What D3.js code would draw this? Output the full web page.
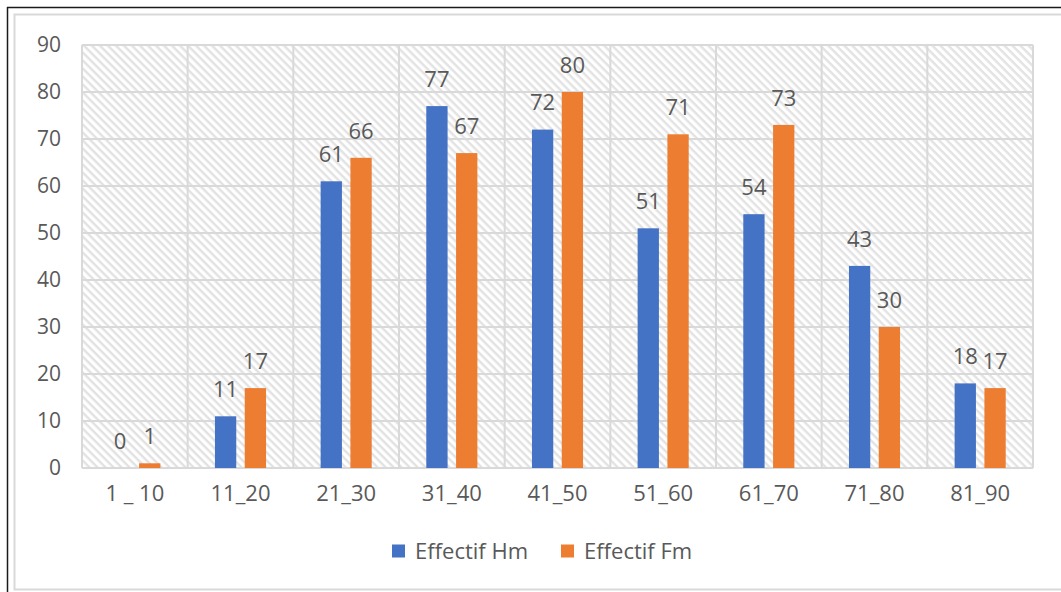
<!DOCTYPE html>
<html>
<head>
<meta charset="utf-8">
<script src="https://cdn.jsdelivr.net/npm/d3@7/dist/d3.min.js"></script>
<style>
  html, body { margin: 0; padding: 0; background: #ffffff; }
  svg { display: block; }
  text { font-family: "Open Sans", "DejaVu Sans", sans-serif; fill: #595959; }
</style>
</head>
<body>
<svg id="chart" width="1061" height="592"></svg>
<script>
// Age classes and counts per class
const categories = ["1 _ 10", "11_20", "21_30", "31_40", "41_50", "51_60", "61_70", "71_80", "81_90"];
const seriesNames = ["Effectif Hm", "Effectif Fm"];
const effectifHm = [0, 11, 61, 77, 72, 51, 54, 43, 18];
const effectifFm = [1, 17, 66, 67, 80, 71, 73, 30, 17];
const yTicks = [0, 10, 20, 30, 40, 50, 60, 70, 80, 90];
const colors = ["#4472c4", "#ed7d31"];

const seriesValues = [effectifHm, effectifFm];
const FONT = 21;

const svg = d3.select("#chart");
const W = 1061, H = 592;

// frame: dark outer rule on top/left, light inner border
svg.append("rect").attr("x", 14.5).attr("y", 14.5).attr("width", W + 10).attr("height", 575)
  .attr("fill", "#ffffff").attr("stroke", "#d9d9d9").attr("stroke-width", 2);
svg.append("line").attr("x1", 7).attr("y1", 7.5).attr("x2", W).attr("y2", 7.5)
  .attr("stroke", "#1a1a1a").attr("stroke-width", 1.5);
svg.append("line").attr("x1", 7.5).attr("y1", 7).attr("x2", 7.5).attr("y2", H)
  .attr("stroke", "#1a1a1a").attr("stroke-width", 1.5);

const plot = { left: 82, right: 1033, top: 45, bottom: 468 };

// downward diagonal hatch for the plot background
const defs = svg.append("defs");
const pat = defs.append("pattern")
  .attr("id", "hatch")
  .attr("patternUnits", "userSpaceOnUse")
  .attr("width", 5.66).attr("height", 5.66)
  .attr("patternTransform", "rotate(45)");
pat.append("rect").attr("x", 0).attr("y", 0).attr("width", 5.66).attr("height", 2.4)
  .attr("fill", "#e2e2e2");

svg.append("rect")
  .attr("x", plot.left).attr("y", plot.top)
  .attr("width", plot.right - plot.left).attr("height", plot.bottom - plot.top)
  .attr("fill", "url(#hatch)");

const x = d3.scaleBand().domain(categories).range([plot.left, plot.right]).padding(0);
const y = d3.scaleLinear().domain([0, 90]).range([plot.bottom, plot.top]);
const xs = d3.scaleBand().domain(seriesNames).range([0, x.bandwidth()])
  .paddingInner(0.285).paddingOuter(0.916);

// gridlines
const grid = svg.append("g").attr("stroke", "#d9d9d9").attr("stroke-width", 2);
grid.selectAll("line.h").data(yTicks).join("line")
  .attr("x1", plot.left).attr("x2", plot.right)
  .attr("y1", d => y(d)).attr("y2", d => y(d));
const vLines = categories.map(c => x(c)).concat([plot.right]);
grid.selectAll("line.v").data(vLines).join("line")
  .attr("x1", d => d).attr("x2", d => d)
  .attr("y1", plot.top).attr("y2", plot.bottom);

// y axis labels
const yAxis = d3.axisLeft(y).tickValues(yTicks).tickSize(0).tickPadding(0);
const gy = svg.append("g").attr("transform", `translate(${plot.left - 21},0)`).call(yAxis);
gy.select(".domain").remove();
gy.selectAll("text").attr("font-size", FONT).style("font-family", '"Open Sans", sans-serif').attr("fill", "#595959");

// x axis labels
const xAxis = d3.axisBottom(x).tickSize(0).tickPadding(0);
const gx = svg.append("g").attr("transform", `translate(0,${plot.bottom + 17})`).call(xAxis);
gx.select(".domain").remove();
gx.selectAll("text").attr("font-size", FONT + 1).style("font-family", '"Open Sans", sans-serif').attr("fill", "#595959");

// bars and value labels
const rows = [];
categories.forEach((c, i) => {
  seriesNames.forEach((s, j) => rows.push({ c, s, j, v: seriesValues[j][i] }));
});

svg.append("g").selectAll("rect").data(rows).join("rect")
  .attr("x", d => x(d.c) + xs(d.s))
  .attr("width", xs.bandwidth())
  .attr("y", d => y(d.v))
  .attr("height", d => y(0) - y(d.v))
  .attr("fill", d => colors[d.j]);

svg.append("g").selectAll("text").data(rows).join("text")
  .attr("x", d => x(d.c) + xs(d.s) + xs.bandwidth() / 2)
  .attr("y", d => y(d.v) - 27)
  .attr("dy", "0.35em")
  .attr("text-anchor", "middle")
  .attr("font-size", FONT + 1)
  .text(d => d.v);

// legend
const legend = svg.append("g").attr("transform", "translate(0,551)");
const legendItems = [{ name: seriesNames[0], x: 392 }, { name: seriesNames[1], x: 561 }];
legendItems.forEach((it, j) => {
  legend.append("rect").attr("x", it.x).attr("y", -6.5).attr("width", 13).attr("height", 13)
    .attr("fill", colors[j]);
  legend.append("text").attr("x", it.x + 23).attr("y", 0).attr("dy", "0.35em")
    .attr("font-size", FONT + 1).text(it.name);
});
</script>
</body>
</html>
